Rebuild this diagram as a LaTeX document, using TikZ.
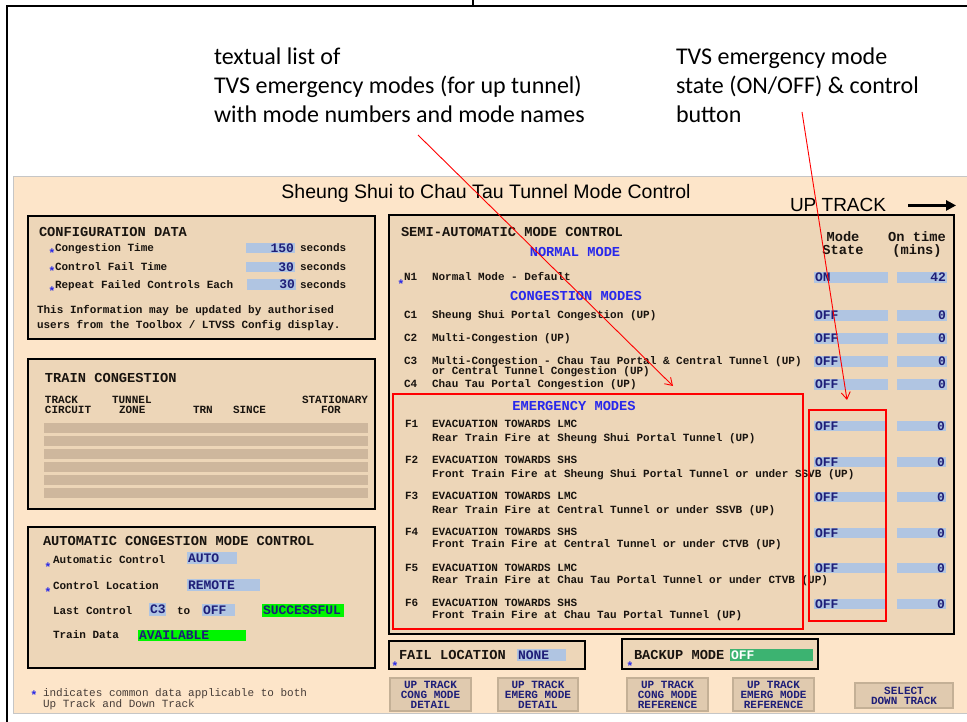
\documentclass[tikz,border=0pt]{standalone}
\usepackage{fontspec}
\setmainfont{Liberation Serif}
\newfontfamily\monof{Liberation Mono}
\newfontfamily\annf{Carlito}
\newfontfamily\sansf{Liberation Sans}
\usetikzlibrary{arrows.meta}
\definecolor{peach}{RGB}{253,229,201}
\definecolor{boxbg}{RGB}{237,214,184}
\definecolor{rowgray}{RGB}{206,183,157}
\definecolor{valblue}{RGB}{176,197,226}
\definecolor{navy}{RGB}{30,30,120}
\definecolor{bluehd}{RGB}{40,40,235}
\definecolor{brightgreen}{RGB}{0,245,0}
\definecolor{seagreen}{RGB}{60,179,113}
\definecolor{btnbg}{RGB}{224,202,175}
\definecolor{btnedge}{RGB}{196,176,150}
\definecolor{scrtext}{RGB}{25,20,15}
\definecolor{starblue}{RGB}{40,40,230}
\definecolor{foottext}{RGB}{70,60,55}
\newcommand\bx[6]{\node[#6, anchor=north west, minimum width={#4-#2}, minimum height={#5-#3}] (#1) at (#2,#3) {};}
\newcommand\vbR[6]{\bx{#1}{#2}{#3}{#4}{#5}{fill=valblue}\node[val, anchor=east] (#1t) at ([xshift=-1pt]#1.east) {#6};}
\newcommand\vbL[6]{\bx{#1}{#2}{#3}{#4}{#5}{fill=valblue}\node[val, anchor=west] (#1t) at ([xshift=1pt]#1.west) {#6};}
\newcommand\gbL[6]{\bx{#1}{#2}{#3}{#4}{#5}{fill=brightgreen}\node[val, anchor=west] (#1t) at ([xshift=1pt]#1.west) {#6};}
\newcommand\btn[6]{\bx{#1}{#2}{#3}{#4}{#5}{button}\node[btntext] (#1t) at (#1.center) {#6};}
\begin{document}
\begin{tikzpicture}[x=1pt,y=-1pt,
  every node/.style={inner sep=0pt,outer sep=0pt},
  panelbox/.style={fill=boxbg, draw=black, line width=1.8},
  redbox/.style={draw=red, line width=2.2},
  button/.style={fill=btnbg, draw=btnedge, line width=2},
  txt/.style={font=\monof\bfseries\fontsize{11}{11}\selectfont, text=scrtext},
  foot/.style={font=\monof\fontsize{11}{10}\selectfont, text=foottext},
  hd/.style={font=\monof\bfseries\fontsize{13.7}{14}\selectfont, text=scrtext},
  bhd/.style={font=\monof\bfseries\fontsize{13.7}{14}\selectfont, text=bluehd},
  val/.style={font=\monof\bfseries\fontsize{13}{13}\selectfont, text=navy},
  btntext/.style={font=\monof\bfseries\fontsize{11}{10}\selectfont, text=navy, align=center},
  starm/.style={font=\monof\bfseries\fontsize{12}{12}\selectfont, text=starblue},
  ann/.style={font=\annf\fontsize{24}{29}\selectfont, text=black},
  redarrow/.style={draw=red, line width=0.9, -{Straight Barb[length=7pt,width=9pt]}},
  bigarrow/.style={line width=2.5, -{Triangle[length=10pt,width=10pt]}}]
\useasboundingbox (0,0) rectangle (967,722);
% outer frame
\draw[line width=2] (968,6.5) -- (6.5,6.5) -- (6.5,723);
\draw[line width=1.2] (473,0) -- (473,6);
% annotations
\node[ann, anchor=base west] (ann1a) at (214,65) {textual list of};
\node[ann, anchor=base west] (ann1b) at (214,94) {TVS emergency modes (for up tunnel)};
\node[ann, anchor=base west] (ann1c) at (214,123) {with mode numbers and mode names};
\node[ann, anchor=base west] (ann2a) at (676,65) {TVS emergency mode};
\node[ann, anchor=base west] (ann2b) at (676,94) {state (ON/OFF) \& control};
\node[ann, anchor=base west] (ann2c) at (676,123) {button};
% screen panel
\bx{panel}{13}{177}{972}{713}{fill=peach, draw=gray!45, line width=1}
\node[font=\sansf\fontsize{19.5}{20}\selectfont, anchor=base] (title) at (486,199) {Sheung Shui to Chau Tau Tunnel Mode Control};
\node[font=\sansf\fontsize{19}{20}\selectfont, anchor=base west] (uptrack) at (790,212) {UP TRACK};
\draw[bigarrow] ([xshift=22pt]uptrack.east) -- ([xshift=70pt]uptrack.east);
% configuration data
\bx{cfg}{28}{216}{375}{339}{panelbox}
\node[hd, anchor=base west] (cfgh) at (39,237) {CONFIGURATION DATA};
\node[starm, anchor=base] (s1) at (52,258) {*};
\node[txt, anchor=base west] (cfg1) at (55,252) {Congestion Time};
\vbR{cv1}{246}{243}{295}{253}{150}
\node[txt, anchor=base west] (sec1) at (300,252) {seconds};
\node[starm, anchor=base] (s2) at (52,276) {*};
\node[txt, anchor=base west] (cfg2) at (55,271) {Control Fail Time};
\vbR{cv2}{246}{262}{295}{272}{30}
\node[txt, anchor=base west] (sec2) at (300,271) {seconds};
\node[starm, anchor=base] (s3) at (52,295) {*};
\node[txt, anchor=base west] (cfg3) at (55,289) {Repeat Failed Controls Each};
\vbR{cv3}{247}{279}{296}{290}{30}
\node[txt, anchor=base west] (sec3) at (300,289) {seconds};
\node[txt, anchor=base west] (info1) at (37,313) {This Information may be updated by authorised};
\node[txt, anchor=base west] (info2) at (37,328) {users from the Toolbox / LTVSS Config display.};
% train congestion
\bx{tc}{28}{359}{375}{509}{panelbox}
\node[hd, anchor=base west] (tch) at (45,382) {TRAIN CONGESTION};
\node[txt, anchor=base west] (h1a) at (45,403) {TRACK};
\node[txt, anchor=base west] (h1b) at (45,413) {CIRCUIT};
\node[txt, anchor=base west] (h2a) at (112,403) {TUNNEL};
\node[txt, anchor=base west] (h2b) at (119,413) {ZONE};
\node[txt, anchor=base west] (h3) at (193,413) {TRN};
\node[txt, anchor=base west] (h4) at (233,413) {SINCE};
\node[txt, anchor=base west] (h5a) at (302,403) {STATIONARY};
\node[txt, anchor=base west] (h5b) at (321,413) {FOR};
\foreach \yy [count=\i] in {423,436,449,462,475,488} {\bx{row\i}{44}{\yy}{368}{\yy+10}{fill=rowgray}}
% automatic congestion mode control
\bx{ac}{28}{527}{375}{668}{panelbox}
\node[hd, anchor=base west] (ach) at (43,545) {AUTOMATIC CONGESTION MODE CONTROL};
\node[starm, anchor=base] (s4) at (48,571) {*};
\node[txt, anchor=base west] (ac1) at (53,563) {Automatic Control};
\vbL{av1}{187}{552}{237}{564}{AUTO}
\node[starm, anchor=base] (s5) at (48,596) {*};
\node[txt, anchor=base west] (ac2) at (53,589) {Control Location};
\vbL{av2}{187}{579}{260}{591}{REMOTE}
\node[txt, anchor=base west] (ac3) at (53,614) {Last Control};
\vbL{av3}{149}{603}{166}{616}{C3}
\node[txt, anchor=base west] (ac3to) at (177,614) {to};
\vbL{av4}{202}{604}{235}{616}{OFF}
\gbL{av5}{262}{604}{344}{617}{SUCCESSFUL}
\node[txt, anchor=base west] (ac4) at (53,638) {Train Data};
\gbL{av6}{138}{630}{246}{641}{AVAILABLE}
% footer note
\node[starm, anchor=base] (s6) at (34,699) {*};
\node[foot, anchor=base west] (foot1) at (43,696) {indicates common data applicable to both};
\node[foot, anchor=base west] (foot2) at (43,707.5) {Up Track and Down Track};
% semi-automatic mode control
\bx{sa}{389}{215}{954}{634}{panelbox}
\node[hd, anchor=base west] (sah) at (401,237) {SEMI-AUTOMATIC MODE CONTROL};
\node[bhd, anchor=base] (nmh) at (575,257) {NORMAL MODE};
\node[hd, anchor=base] (msa) at (843,242) {Mode};
\node[hd, anchor=base] (msb) at (843,255) {State};
\node[hd, anchor=base] (ota) at (917,242) {On time};
\node[hd, anchor=base] (otb) at (917,255) {(mins)};
\node[starm, anchor=base] (s7) at (401,288) {*};
\node[txt, anchor=base west] (n1) at (404,280) {N1};
\node[txt, anchor=base west] (n1t) at (432,280) {Normal Mode - Default};
\vbL{nv1}{814}{272}{888}{283}{ON}
\vbR{nv2}{897}{272}{947}{283}{42}
\node[bhd, anchor=base] (cmh) at (576,301) {CONGESTION MODES};
\node[txt, anchor=base west] (c1) at (404,318) {C1};
\node[txt, anchor=base west] (c1t) at (432,318) {Sheung Shui Portal Congestion (UP)};
\node[txt, anchor=base west] (c2) at (404,341) {C2};
\node[txt, anchor=base west] (c2t) at (432,341) {Multi-Congestion (UP)};
\node[txt, anchor=base west] (c3) at (404,364) {C3};
\node[txt, anchor=base west] (c3t) at (432,364) {Multi-Congestion - Chau Tau Portal \& Central Tunnel (UP)};
\node[txt, anchor=base west] (c3u) at (432,374) {or Central Tunnel Congestion (UP)};
\node[txt, anchor=base west] (c4) at (404,387) {C4};
\node[txt, anchor=base west] (c4t) at (432,387) {Chau Tau Portal Congestion (UP)};
\foreach \yy/\nm in {310/c1,333/c2,356/c3,379/c4} {
  \vbL{\nm s}{814}{\yy}{888}{\yy+11}{OFF}
  \vbR{\nm o}{897}{\yy}{947}{\yy+11}{0}
}
% emergency modes
\node[bhd, anchor=base] (emh) at (574,410) {EMERGENCY MODES};
\node[txt, anchor=base west] (f1) at (405,427) {F1};
\node[txt, anchor=base west] (f1a) at (432,427) {EVACUATION TOWARDS LMC};
\node[txt, anchor=base west] (f1b) at (432,441) {Rear Train Fire at Sheung Shui Portal Tunnel (UP)};
\node[txt, anchor=base west] (f2) at (405,463) {F2};
\node[txt, anchor=base west] (f2a) at (432,463) {EVACUATION TOWARDS SHS};
\node[txt, anchor=base west] (f2b) at (432,477) {Front Train Fire at Sheung Shui Portal Tunnel or under SSVB (UP)};
\node[txt, anchor=base west] (f3) at (405,499) {F3};
\node[txt, anchor=base west] (f3a) at (432,499) {EVACUATION TOWARDS LMC};
\node[txt, anchor=base west] (f3b) at (432,513) {Rear Train Fire at Central Tunnel or under SSVB (UP)};
\node[txt, anchor=base west] (f4) at (405,535) {F4};
\node[txt, anchor=base west] (f4a) at (432,535) {EVACUATION TOWARDS SHS};
\node[txt, anchor=base west] (f4b) at (432,547) {Front Train Fire at Central Tunnel or under CTVB (UP)};
\node[txt, anchor=base west] (f5) at (405,571) {F5};
\node[txt, anchor=base west] (f5a) at (432,571) {EVACUATION TOWARDS LMC};
\node[txt, anchor=base west] (f5b) at (432,583) {Rear Train Fire at Chau Tau Portal Tunnel or under CTVB (UP)};
\node[txt, anchor=base west] (f6) at (405,606) {F6};
\node[txt, anchor=base west] (f6a) at (432,606) {EVACUATION TOWARDS SHS};
\node[txt, anchor=base west] (f6b) at (432,618) {Front Train Fire at Chau Tau Portal Tunnel (UP)};
\foreach \yy/\nm in {421/e1,457/e2,492/e3,528/e4,563/e5,599/e6} {
  \vbL{\nm s}{814}{\yy}{887}{\yy+10}{OFF}
  \vbR{\nm o}{897}{\yy}{946}{\yy+10}{0}
}
\bx{emerg}{393}{394}{803}{629}{redbox}
\bx{statebox}{809}{410}{886}{621}{redbox}
% fail location / backup mode
\bx{fail}{389}{641}{585}{669}{panelbox}
\node[hd, anchor=base west] (failt) at (399,659) {FAIL LOCATION};
\vbL{failv}{517}{649}{566}{661}{NONE}
\node[starm, anchor=base] (s8) at (395,670) {*};
\bx{backup}{622}{639}{818}{669}{panelbox}
\node[hd, anchor=base west] (backt) at (634,659) {BACKUP MODE};
\bx{backv}{730}{649}{813}{661}{fill=seagreen}
\node[val, text=white, anchor=west] (backvt) at ([xshift=1pt]backv.west) {OFF};
\node[starm, anchor=base] (s9) at (630,670) {*};
% buttons
\btn{b1}{390}{678}{471}{711}{UP TRACK\\CONG MODE\\DETAIL}
\btn{b2}{498}{678}{578}{711}{UP TRACK\\EMERG MODE\\DETAIL}
\btn{b3}{627}{678}{708}{711}{UP TRACK\\CONG MODE\\REFERENCE}
\btn{b4}{733}{678}{814}{711}{UP TRACK\\EMERG MODE\\REFERENCE}
\btn{b5}{855}{683}{953}{708}{SELECT\\DOWN TRACK}
% annotation arrows
\coordinate (a1s) at (418,135);
\coordinate (a1e) at (673,386);
\coordinate (a2s) at (802,112);
\coordinate (a2e) at (847,400);
\draw[redarrow] (a1s) -- (a1e);
\draw[redarrow] (a2s) -- (a2e);
\end{tikzpicture}
\end{document}
